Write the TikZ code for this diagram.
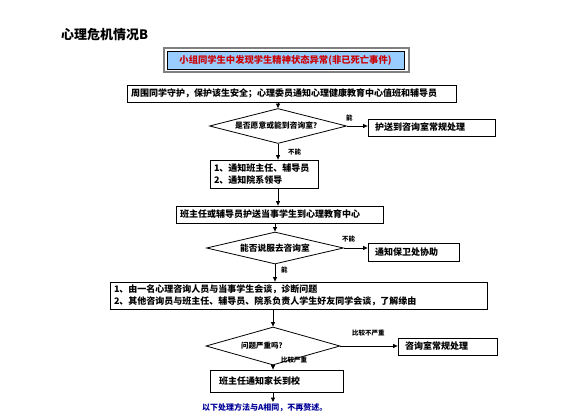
\documentclass[tikz,border=0pt]{standalone}
\usepackage{fontspec}
\setmainfont{Noto Sans CJK SC}
\usetikzlibrary{arrows.meta,shapes.geometric,shadows}
\definecolor{hdrblue}{RGB}{153,204,255}
\definecolor{hdrred}{RGB}{204,0,0}
\definecolor{noteblue}{RGB}{0,0,153}
\begin{document}
\begin{tikzpicture}[x=1pt,y=-1pt,
  box/.style={draw, line width=0.8pt, fill=white, rectangle, inner xsep=4pt, inner ysep=0pt,
    font=\bfseries\fontsize{9}{11.5}\selectfont, align=left,
    drop shadow={shadow xshift=1.3pt, shadow yshift=-1.3pt, fill=black, opacity=1}},
  dia/.style={draw, line width=0.8pt, diamond, aspect=3.9, inner sep=0pt, fill=white,
    font=\bfseries\fontsize{7.5}{9}\selectfont},
  arr/.style={line width=0.8pt, -{Triangle[length=4.5pt,width=4pt]}},
  lbl/.style={font=\bfseries\fontsize{6.5}{8}\selectfont, inner sep=0pt}]
\useasboundingbox (0,0) rectangle (577,417);

% title
\node[anchor=west, font=\bfseries\fontsize{13}{15}\selectfont, inner sep=0pt] (title) at (61,35) {心理危机情况B};

% header
\node[draw=gray, line width=1.5pt, minimum width=245pt, minimum height=24pt, inner sep=0pt] (hframe) at (286.5,60) {};
\node[draw, line width=0.8pt, fill=hdrblue, minimum width=237pt, minimum height=18pt, inner sep=0pt,
  text=hdrred, font=\bfseries\fontsize{9.3}{11}\selectfont] (hdr) at (285.5,60) {小组同学生中发现学生精神状态异常(非已死亡事件)};

% boxes
\node[box, text width=321pt, minimum height=17pt] (b1) at (291.5,93.5) {周围同学守护，保护该生安全；心理委员通知心理健康教育中心值班和辅导员};
\node[dia, minimum width=137pt, minimum height=35pt, font=\bfseries\fontsize{7.8}{9}\selectfont] (d1) at (278,126) {是否愿意或能到咨询室？};
\node[box, text width=113pt, inner xsep=7pt, minimum height=17pt] (r1) at (431.5,127.5) {护送到咨询室常规处理};
\node[box, text width=100pt, minimum height=28pt] (b2) at (264,174) {1、通知班主任、辅导员\\2、通知院系领导};
\node[box, text width=199pt, minimum height=17pt] (b3) at (279.5,214.5) {班主任或辅导员护送当事学生到心理教育中心};
\node[dia, minimum width=137pt, minimum height=32pt, font=\bfseries\fontsize{8.7}{10}\selectfont] (d2) at (275,248) {能否说服去咨询室};
\node[box, text width=77pt, inner xsep=7pt, minimum height=18pt] (r2) at (413.5,252) {通知保卫处协助};
\node[box, text width=369pt, minimum height=27pt] (b4) at (298.5,295.5) {1、由一名心理咨询人员与当事学生会谈，诊断问题\\2、其他咨询员与班主任、辅导员、院系负责人学生好友同学会谈，了解缘由};
\node[dia, minimum width=134pt, minimum height=38pt] (d3) at (273,346) {\hspace*{-22pt}问题严重吗?};
\node[box, text width=85pt, inner xsep=7pt, minimum height=17pt] (r3) at (447.5,346.5) {咨询室常规处理};
\node[box, text width=115pt, inner xsep=9pt, minimum height=22pt] (b5) at (276.5,381) {班主任通知家长到校};
\coordinate (endpt) at (273,402);
\node[anchor=west, inner sep=0pt, text=noteblue, font=\bfseries\fontsize{8}{10}\selectfont] (note) at (202,408) {以下处理方法与A相同，不再赘述。};

% connectors
\draw[arr] (d1.north |- b1.south) -- (d1.north);
\draw[arr] (d1.east) -- (r1.west |- d1.east);
\draw[arr] (d1.south) -- (d1.south |- b2.north);
\draw[arr] (d1.south |- b2.south) -- (d1.south |- b3.north);
\draw[arr] (d2.north |- b3.south) -- (d2.north);
\draw[arr] (d2.east) -- (r2.west |- d2.east);
\draw[arr] (d2.south) -- (d2.south |- b4.north);
\draw[arr] (d3.north |- b4.south) -- (d3.north);
\draw[arr] (d3.east) -- (r3.west |- d3.east);
\draw[arr] (d3.south) -- (d3.south |- b5.north);
\draw[arr] (d3.south |- b5.south) -- (endpt);

% labels
\node[lbl, anchor=west] (l1) at (346,118) {能};
\node[lbl, anchor=west] (l2) at (288,152) {不能};
\node[lbl, anchor=west] (l3) at (342,239) {不能};
\node[lbl, anchor=west] (l4) at (281,270) {能};
\node[lbl, anchor=west] (l5) at (352,333) {比较不严重};
\node[lbl, anchor=west] (l6) at (281,360) {比较严重};
\end{tikzpicture}
\end{document}
